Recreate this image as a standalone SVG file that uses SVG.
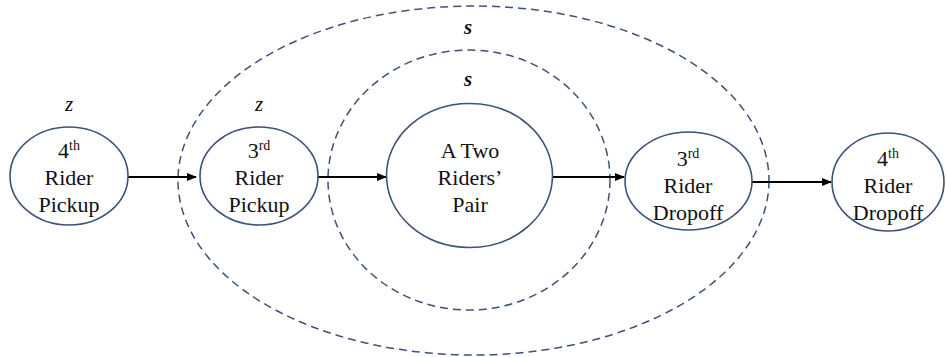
<svg xmlns="http://www.w3.org/2000/svg" width="946" height="357" viewBox="0 0 946 357">
<defs>
<style>
.node{fill:#fff;stroke:#3E5279;stroke-width:1.6}
.grp{fill:none;stroke:#3E5279;stroke-width:1.5;stroke-dasharray:8 5}
text{font-family:'Liberation Serif','Times New Roman',serif;fill:#111;text-anchor:middle}
.t{font-size:22px}
.sup{font-size:14px}
.v{font-size:21px;font-style:italic}
.edge{stroke:#000;stroke-width:2.2;fill:none}
</style>
<marker id="ah" markerWidth="10" markerHeight="8" refX="9" refY="4" orient="auto" markerUnits="userSpaceOnUse">
<path d="M0,0 L10,4 L0,8 Z" fill="#000"/>
</marker>
</defs>
<rect width="946" height="357" fill="#fff"/>
<g id="group-outer">
<ellipse class="grp" cx="473.5" cy="180.5" rx="295.5" ry="174.5"/>
<text class="v" x="468" y="34" font-weight="bold">s</text>
</g>
<g id="group-inner">
<ellipse class="grp" cx="469" cy="180" rx="141" ry="130"/>
<text class="v" x="468" y="86" font-weight="bold">s</text>
</g>
<g id="connectors">
<line class="edge" x1="128" y1="177" x2="196" y2="177" marker-end="url(#ah)"/>
<line class="edge" x1="318" y1="177" x2="386" y2="177" marker-end="url(#ah)"/>
<line class="edge" x1="553" y1="177" x2="624" y2="177" marker-end="url(#ah)"/>
<line class="edge" x1="752" y1="182" x2="831" y2="182" marker-end="url(#ah)"/>
</g>
<g id="n-4th-pickup">
<ellipse class="node" cx="69" cy="176" rx="59" ry="49"/>
<text class="v" x="69" y="111">z</text>
<text class="t" x="69" y="158">4<tspan class="sup" dy="-8">th</tspan></text>
<text class="t" x="69" y="185">Rider</text>
<text class="t" x="69" y="212">Pickup</text>
</g>
<g id="n-3rd-pickup">
<ellipse class="node" cx="259" cy="176" rx="59" ry="49"/>
<text class="v" x="259" y="111">z</text>
<text class="t" x="259" y="158">3<tspan class="sup" dy="-8">rd</tspan></text>
<text class="t" x="259" y="185">Rider</text>
<text class="t" x="259" y="212">Pickup</text>
</g>
<g id="n-pair">
<ellipse class="node" cx="469.5" cy="175.5" rx="83" ry="72"/>
<text class="t" x="470" y="158">A Two</text>
<text class="t" x="470" y="185">Riders’</text>
<text class="t" x="470" y="212">Pair</text>
</g>
<g id="n-3rd-dropoff">
<ellipse class="node" cx="688.5" cy="181" rx="63.5" ry="49"/>
<text class="t" x="688" y="166">3<tspan class="sup" dy="-8">rd</tspan></text>
<text class="t" x="688" y="193">Rider</text>
<text class="t" x="688" y="220">Dropoff</text>
</g>
<g id="n-4th-dropoff">
<ellipse class="node" cx="888" cy="182" rx="56" ry="49"/>
<text class="t" x="888" y="166">4<tspan class="sup" dy="-8">th</tspan></text>
<text class="t" x="888" y="193">Rider</text>
<text class="t" x="888" y="220">Dropoff</text>
</g>
</svg>
